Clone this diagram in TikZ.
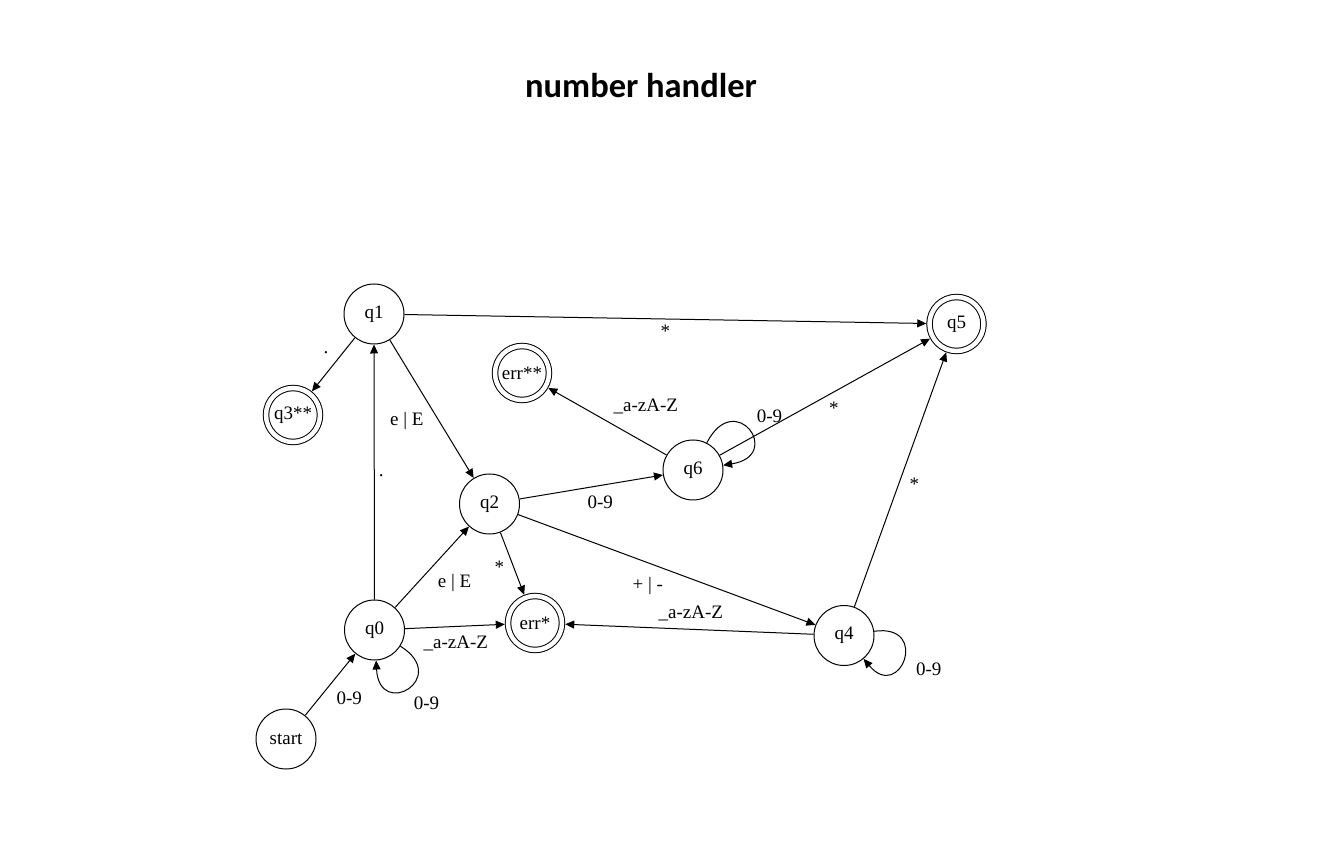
\documentclass[tikz,border=0pt]{standalone}
\usepackage{fontspec}
\setmainfont{Liberation Serif}
\newfontfamily\titlefont{Carlito}
\usetikzlibrary{arrows.meta}
\begin{document}
\begin{tikzpicture}[x=1pt,y=1pt,
  every node/.style={font=\fontsize{19}{22}\selectfont},
  state/.style={circle, draw, line width=1pt, minimum size=60pt, inner sep=0pt},
  accept/.style={circle, draw, line width=1pt, double, double distance=4.5pt, minimum size=54pt, inner sep=0pt, outer sep=3.25pt},
  arr/.style={line width=1pt, -{Triangle[length=9pt,width=8pt]}},
  lbl/.style={inner sep=0pt}
]
\useasboundingbox (0,0) rectangle (1328,863);
\node (title) at (641,777) {\titlefont\bfseries\fontsize{34.5}{40}\selectfont number handler};

\node[state]  (q1)    at (374,549)   {q1};
\node[accept] (q3)    at (293,448)   {q3**};
\node[accept] (err2)  at (522,490)   {err**};
\node[accept] (q5)    at (956.5,539) {q5};
\node[state]  (q6)    at (693,393)   {q6};
\node[state]  (q2)    at (489.5,359) {q2};
\node[state]  (q0)    at (374.5,233) {q0};
\node[accept] (err1)  at (535,240)   {err*};
\node[state]  (q4)    at (844,227.5) {q4};
\node[state]  (start) at (286,124)   {start};

\draw[arr] (q1) -- node[lbl,xshift=-7.5pt,yshift=11.5pt]{.} (q3);
\draw[arr] (q0) -- node[lbl,xshift=7pt,yshift=-4pt]{.} (q1);
\draw[arr] (q1) -- node[lbl,xshift=-25pt,yshift=-12pt]{e | E} (q2);
\draw[arr] (q1) -- node[lbl,yshift=-12pt]{*} (q5);
\draw[arr] (q6) -- node[lbl,xshift=38.5pt,yshift=14.5pt]{\_a-zA-Z} (err2);
\draw[arr] (q6) to[out=63,in=9,distance=62pt] node[lbl,pos=.5,xshift=21pt,yshift=13pt]{0-9} (q6);
\draw[arr] (q6) -- node[lbl,xshift=9pt,yshift=-11pt]{*} (q5);
\draw[arr] (q2) -- node[lbl,xshift=9pt,yshift=-15pt]{0-9} (q6);
\draw[arr] (q2) -- node[lbl,xshift=-13pt,yshift=-3.5pt]{*} (err1);
\draw[arr] (q2) -- node[lbl,xshift=-19pt,yshift=-16pt]{+ | -} (q4);
\draw[arr] (q0) -- node[lbl,xshift=22.5pt,yshift=-16pt]{e | E} (q2);
\draw[arr] (q0) -- node[lbl,xshift=1pt,yshift=-16.5pt]{\_a-zA-Z} (err1);
\draw[arr] (q4) -- node[lbl,xshift=1.5pt,yshift=16pt]{\_a-zA-Z} (err1);
\draw[arr] (q4) to[out=8,in=-50,distance=57pt] node[lbl,pos=.5,xshift=25pt,yshift=-11pt]{0-9} (q4);
\draw[arr] (q4) -- node[lbl,xshift=14pt,yshift=-5pt]{*} (q5);
\draw[arr] (start) -- node[lbl,xshift=19pt,yshift=-13.5pt]{0-9} (q0);
\draw[arr] (q0) to[out=-32,in=-87,distance=60pt] node[lbl,pos=.5,xshift=18pt,yshift=-15.5pt]{0-9} (q0);
\end{tikzpicture}
\end{document}
